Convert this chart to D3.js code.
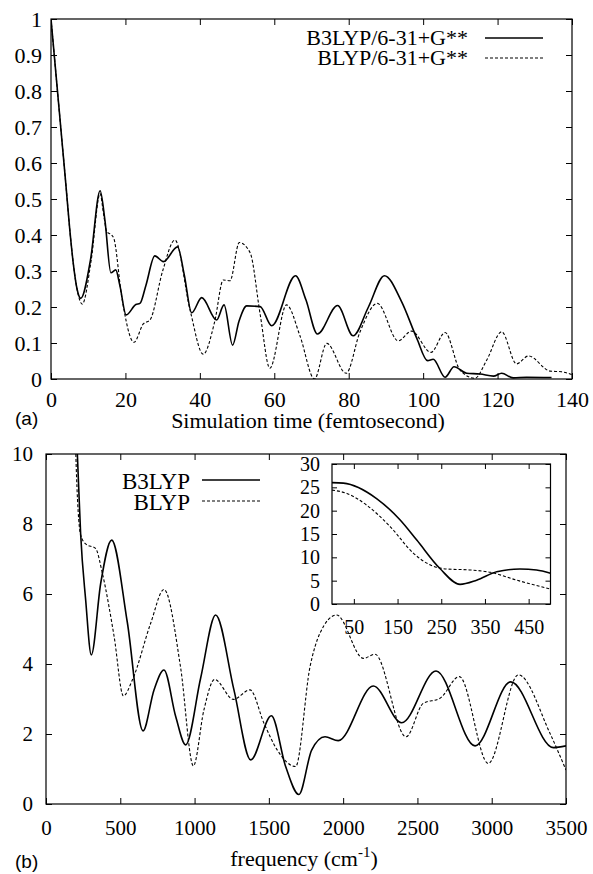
<!DOCTYPE html>
<html>
<head>
<meta charset="utf-8">
<script src="https://cdn.jsdelivr.net/npm/d3@7"></script>
<style>
body { margin: 0; background: #fff; }
</style>
</head>
<body>
<div id="chart"></div>
<script>
var SERIF = "'Liberation Serif', 'Times New Roman', serif";
var SANS = "'Liberation Sans', Arial, sans-serif";

// ---- panel (a): autocorrelation vs simulation time ----
var timeB3 = [0, 1, 2, 3, 4, 5, 6, 7, 8.0, 10.6, 13.2, 14.5, 16.1, 17.4, 18.5, 20.2, 22.8, 23.9, 25.5, 27.9, 30.2, 34.0, 35.8, 37.8, 40.5, 44.5, 46.5, 48.8, 50.5, 52.6, 56.2, 59.3, 65.7, 68.5, 71.6, 77.0, 81.2, 85.3, 89.6, 94.2, 98.3, 101.2, 102.7, 105.9, 108.3, 111.7, 115.3, 118.9, 121.1, 124.2, 127.8, 134.5];
var valB3 = [1.0, 0.885, 0.77, 0.655, 0.54, 0.42, 0.32, 0.25, 0.224, 0.33, 0.523, 0.44, 0.295, 0.303, 0.26, 0.178, 0.207, 0.21, 0.26, 0.342, 0.326, 0.367, 0.29, 0.184, 0.226, 0.164, 0.206, 0.094, 0.16, 0.203, 0.201, 0.148, 0.287, 0.22, 0.125, 0.204, 0.120, 0.2, 0.287, 0.215, 0.113, 0.051, 0.055, 0.005, 0.034, 0.016, 0.014, 0.008, 0.016, 0.003, 0.005, 0.004];

var timeBL = [0, 1, 2, 3, 4, 5, 6, 7, 8.4, 10.8, 13.2, 14.1, 15.0, 16.3, 16.9, 19.0, 22.3, 24.8, 26.6, 30.0, 33.3, 37.4, 40.9, 44.0, 46.3, 48.1, 50.6, 53.5, 56.2, 58.8, 63.3, 66.9, 70.8, 74.1, 79.3, 83.0, 87.7, 93.3, 96.9, 102.1, 105.9, 109.9, 113.9, 117.1, 121.1, 125.1, 128.3, 134.1, 137.2, 140];
var valBL = [1.0, 0.885, 0.77, 0.655, 0.54, 0.42, 0.32, 0.25, 0.208, 0.33, 0.515, 0.46, 0.409, 0.40, 0.39, 0.229, 0.102, 0.153, 0.164, 0.30, 0.386, 0.19, 0.069, 0.16, 0.275, 0.273, 0.379, 0.351, 0.18, 0.030, 0.206, 0.12, 0.0, 0.099, 0.016, 0.13, 0.21, 0.106, 0.133, 0.074, 0.129, 0.025, 0.002, 0.053, 0.131, 0.042, 0.064, 0.022, 0.020, 0.012];

var xTicksA = [0, 20, 40, 60, 80, 100, 120, 140];
var yTicksA = [0, 0.1, 0.2, 0.3, 0.4, 0.5, 0.6, 0.7, 0.8, 0.9, 1];
var legendA = ["B3LYP/6-31+G**", "BLYP/6-31+G**"];

// ---- panel (b): spectrum vs frequency ----
var freqB3 = [190, 211, 233, 267, 305, 368, 442, 547, 653, 727, 794, 873, 940, 1041, 1142, 1265, 1378, 1517, 1613, 1702, 1788, 1878, 1967, 2203, 2394, 2625, 2888, 3128, 3415, 3500];
var specB3 = [12, 10.0, 7.73, 5.83, 4.26, 6.3, 7.54, 5.2, 2.09, 3.26, 3.83, 2.5, 1.69, 3.6, 5.4, 3.26, 1.26, 2.52, 1.07, 0.27, 1.54, 1.92, 1.81, 3.37, 2.32, 3.80, 1.66, 3.49, 1.61, 1.66];

var freqBL = [190, 200, 233, 267, 334, 379, 458, 521, 581, 705, 794, 906, 992, 1063, 1135, 1261, 1373, 1467, 1557, 1680, 1777, 1844, 1956, 2136, 2214, 2423, 2540, 2652, 2782, 2977, 3179, 3392, 3500];
var specBL = [12, 10.1, 7.69, 7.43, 7.3, 6.6, 4.8, 3.09, 3.54, 5.17, 6.13, 3.9, 1.09, 2.69, 3.56, 2.99, 3.26, 2.31, 1.54, 1.07, 3.92, 4.88, 5.4, 4.16, 4.28, 1.92, 2.88, 3.02, 3.64, 1.16, 3.69, 2.02, 0.97];

var xTicksB = [0, 500, 1000, 1500, 2000, 2500, 3000, 3500];
var yTicksB = [0, 2, 4, 6, 8, 10];
var legendB = ["B3LYP", "BLYP"];

// inset (low frequency zoom)
var insetFreqB3 = [0, 26, 102, 156, 194, 247, 293, 331, 377, 430, 468, 500];
var insetB3 = [26.0, 25.9, 22.6, 18.0, 13.7, 7.6, 4.2, 5.1, 6.9, 7.5, 7.3, 6.6];
var insetFreqBL = [0, 34, 79, 133, 186, 224, 262, 315, 362, 423, 500];
var insetBL = [24.4, 23.7, 21.2, 16.6, 10.9, 8.4, 7.5, 7.3, 6.8, 5.1, 3.2];
var xTicksIn = [50, 150, 250, 350, 450];
var yTicksIn = [0, 5, 10, 15, 20, 25, 30];

var svg = d3.select("#chart")
    .append("svg")
    .attr("width", 593)
    .attr("height", 874);

// draws a gnuplot style box: inward ticks on all four sides, labels bottom/left
function drawFrame(g, x, y, xt, yt, opt) {
    var w = x.range()[1], h = y.range()[0];
    var fmt = function(d) { return String(d); };
    g.append("g")
        .attr("transform", "translate(0," + h + ")")
        .call(d3.axisBottom(x).tickValues(xt).tickFormat(fmt).tickSizeInner(-opt.tick).tickSizeOuter(0).tickPadding(opt.padX))
        .call(function(a) { a.select(".domain").remove(); })
        .selectAll("text")
        .style("font-family", SERIF)
        .style("font-size", opt.font + "px");
    g.append("g")
        .call(d3.axisLeft(y).tickValues(yt).tickFormat(fmt).tickSizeInner(-opt.tick).tickSizeOuter(0).tickPadding(opt.padY))
        .call(function(a) { a.select(".domain").remove(); })
        .selectAll("text")
        .style("font-family", SERIF)
        .style("font-size", opt.font + "px");
    g.append("g")
        .call(d3.axisTop(x).tickValues(xt).tickSizeInner(-opt.tick).tickSizeOuter(0).tickFormat(""))
        .call(function(a) { a.select(".domain").remove(); });
    g.append("g")
        .attr("transform", "translate(" + w + ",0)")
        .call(d3.axisRight(y).tickValues(yt).tickSizeInner(-opt.tick).tickSizeOuter(0).tickFormat(""))
        .call(function(a) { a.select(".domain").remove(); });
    g.append("rect")
        .attr("width", w)
        .attr("height", h)
        .attr("fill", "none")
        .attr("stroke", "#000")
        .attr("stroke-width", 1.2);
}

function drawCurve(g, x, y, xs, ys, dashed, clipId) {
    var pts = xs.map(function(d, i) { return [d, ys[i]]; });
    var line = d3.line()
        .x(function(d) { return x(d[0]); })
        .y(function(d) { return y(d[1]); })
        .curve(d3.curveMonotoneX);
    g.append("path")
        .datum(pts)
        .attr("d", line)
        .attr("fill", "none")
        .attr("stroke", "#000")
        .attr("stroke-width", dashed ? 1.1 : 1.6)
        .attr("stroke-dasharray", dashed ? "3,2" : null)
        .attr("clip-path", clipId ? "url(#" + clipId + ")" : null);
}

// ---------- panel (a) ----------
var ga = svg.append("g").attr("transform", "translate(51,19)");
var xA = d3.scaleLinear().domain([0, 140]).range([0, 521]);
var yA = d3.scaleLinear().domain([0, 1]).range([360, 0]);

ga.append("clipPath").attr("id", "clipA")
    .append("rect").attr("width", 521).attr("height", 360);

drawFrame(ga, xA, yA, xTicksA, yTicksA, { tick: 6, font: 22, padX: 12, padY: 9 });
drawCurve(ga, xA, yA, timeBL, valBL, true, "clipA");
drawCurve(ga, xA, yA, timeB3, valB3, false, "clipA");

var legA = ga.selectAll(".legA")
    .data(legendA)
    .enter().append("g")
    .attr("transform", function(d, i) { return "translate(0," + (26 + i * 20) + ")"; });
legA.append("text")
    .attr("x", 417)
    .attr("text-anchor", "end")
    .style("font-family", SERIF)
    .style("font-size", "22px")
    .text(function(d) { return d; });
legA.append("line")
    .attr("x1", 434).attr("x2", 492)
    .attr("y1", -7).attr("y2", -7)
    .attr("stroke", "#000")
    .attr("stroke-width", function(d, i) { return i ? 1.1 : 1.6; })
    .attr("stroke-dasharray", function(d, i) { return i ? "3,2" : null; });

svg.append("text")
    .attr("x", 308).attr("y", 428)
    .attr("text-anchor", "middle")
    .style("font-family", SERIF)
    .style("font-size", "22px")
    .text("Simulation time (femtosecond)");
svg.append("text")
    .attr("x", 15).attr("y", 425)
    .style("font-family", SANS)
    .style("font-size", "19px")
    .text("(a)");

// ---------- panel (b) ----------
var gb = svg.append("g").attr("transform", "translate(46,454)");
var xB = d3.scaleLinear().domain([0, 3500]).range([0, 520]);
var yB = d3.scaleLinear().domain([0, 10]).range([350, 0]);

gb.append("clipPath").attr("id", "clipB")
    .append("rect").attr("width", 520).attr("height", 350);

drawFrame(gb, xB, yB, xTicksB, yTicksB, { tick: 6, font: 21, padX: 16, padY: 13 });
drawCurve(gb, xB, yB, freqBL, specBL, true, "clipB");
drawCurve(gb, xB, yB, freqB3, specB3, false, "clipB");

var legB = gb.selectAll(".legB")
    .data(legendB)
    .enter().append("g")
    .attr("transform", function(d, i) { return "translate(0," + (35 + i * 21) + ")"; });
legB.append("text")
    .attr("x", 144)
    .attr("text-anchor", "end")
    .style("font-family", SERIF)
    .style("font-size", "23px")
    .text(function(d) { return d; });
legB.append("line")
    .attr("x1", 156).attr("x2", 214)
    .attr("y1", -9).attr("y2", -9)
    .attr("stroke", "#000")
    .attr("stroke-width", function(d, i) { return i ? 1.1 : 1.6; })
    .attr("stroke-dasharray", function(d, i) { return i ? "3,2" : null; });

// inset
var gi = gb.append("g").attr("transform", "translate(286,10)");
var xI = d3.scaleLinear().domain([0, 500]).range([0, 218.5]);
var yI = d3.scaleLinear().domain([0, 30]).range([140, 0]);
drawFrame(gi, xI, yI, xTicksIn, yTicksIn, { tick: 5, font: 20, padX: 16, padY: 12 });
drawCurve(gi, xI, yI, insetFreqBL, insetBL, true, null);
drawCurve(gi, xI, yI, insetFreqB3, insetB3, false, null);

var xlab = svg.append("text")
    .attr("x", 304).attr("y", 866)
    .attr("text-anchor", "middle")
    .style("font-family", SERIF)
    .style("font-size", "22px");
xlab.append("tspan").text("frequency (cm");
xlab.append("tspan").attr("dy", -9).style("font-size", "15px").text("-1");
xlab.append("tspan").attr("dy", 9).text(")");

svg.append("text")
    .attr("x", 15).attr("y", 868)
    .style("font-family", SANS)
    .style("font-size", "19px")
    .text("(b)");
</script>
</body>
</html>
